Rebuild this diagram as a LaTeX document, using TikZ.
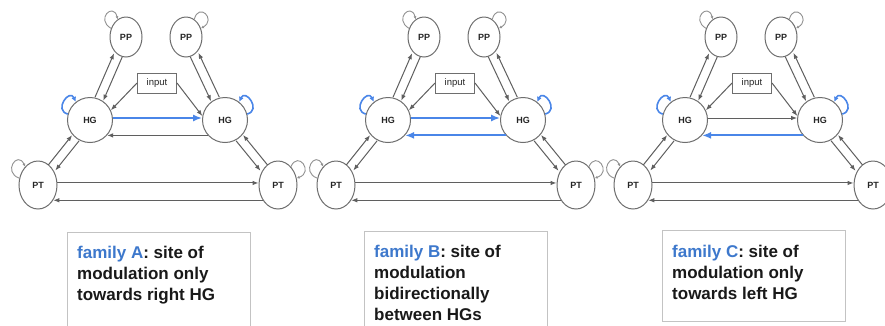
\documentclass[tikz,border=0pt]{standalone}
\usepackage{fontspec}
\setmainfont{Liberation Sans}
\setsansfont{Liberation Sans}
\usetikzlibrary{arrows.meta,shapes.geometric}

\definecolor{edgegray}{RGB}{95,95,95}
\definecolor{nodegray}{RGB}{110,110,110}
\definecolor{loopgray}{RGB}{145,145,145}
\definecolor{modblue}{RGB}{74,134,232}
\definecolor{capblue}{RGB}{61,120,204}
\definecolor{framegray}{RGB}{195,195,195}

\tikzset{
  region/.style={ellipse, draw=nodegray, line width=1pt, fill=white, inner sep=0pt,
    font=\fontsize{9}{10}\selectfont\bfseries, text=black!85},
  ppnode/.style={region, minimum width=32pt, minimum height=40pt},
  hgnode/.style={region, minimum width=45pt, minimum height=45pt},
  ptnode/.style={region, minimum width=38pt, minimum height=48pt},
  inputbox/.style={rectangle, draw=nodegray, line width=1pt, fill=white,
    minimum width=39pt, minimum height=20pt, inner sep=0pt,
    font=\fontsize{9.5}{10}\selectfont, text=black!85},
  link/.style={draw=edgegray, line width=1pt, -{Latex[length=6pt,width=4.5pt]}},
  modlink/.style={draw=modblue, line width=1.8pt, -{Latex[length=9pt,width=7pt]}},
  selfloop/.style={draw=loopgray, line width=0.9pt, -{Latex[length=3pt,width=3pt]}},
  modloop/.style={draw=modblue, line width=1.6pt, -{Latex[length=5pt,width=5pt]}},
  capframe/.style={rectangle, draw=framegray, line width=0.8pt, minimum width=183pt,
    anchor=north west},
  captext/.style={anchor=north west, inner sep=0pt, align=left,
    font=\fontsize{17}{21}\selectfont\bfseries, text=black!90},
}

% One network: #1 name prefix, #2 horizontal offset,
% #3 style of the rightward HG->HG link, #4 style of the leftward one
\newcommand\modpanel[4]{%
\begin{scope}[shift={(#2,0)}]
  \node[ppnode] (#1ppL) at (126,-37) {PP};
  \node[ppnode] (#1ppR) at (186,-37) {PP};
  \node[hgnode] (#1hgL) at (90,-120) {HG};
  \node[hgnode] (#1hgR) at (225,-120) {HG};
  \node[ptnode] (#1ptL) at (38,-185) {PT};
  \node[ptnode] (#1ptR) at (278,-185) {PT};
  \node[inputbox] (#1in) at (157,-83) {input};
  % PP <-> HG
  \draw[link, transform canvas={shift={(-4.1,1.8)}}] (#1hgL) -- (#1ppL);
  \draw[link, transform canvas={shift={(4.1,-1.8)}}] (#1ppL) -- (#1hgL);
  \draw[link, transform canvas={shift={(4.1,2.0)}}] (#1hgR) -- (#1ppR);
  \draw[link, transform canvas={shift={(-4.1,-2.0)}}] (#1ppR) -- (#1hgR);
  % PT <-> HG
  \draw[link, transform canvas={shift={(-3.5,2.8)}}] (#1ptL) -- (#1hgL);
  \draw[link, transform canvas={shift={(3.5,-2.8)}}] (#1hgL) -- (#1ptL);
  \draw[link, transform canvas={shift={(3.5,2.9)}}] (#1ptR) -- (#1hgR);
  \draw[link, transform canvas={shift={(-3.5,-2.9)}}] (#1hgR) -- (#1ptR);
  % input drives both HGs
  \draw[link] (#1in.west) -- (#1hgL.25);
  \draw[link] (#1in.east) -- (#1hgR.170);
  % HG <-> HG
  \draw[#3] (#1hgL.5) -- (#1hgR.175);
  \draw[#4] (#1hgR.222) -- (#1hgL.-42);
  % PT <-> PT
  \draw[link] (#1ptL.6) -- (#1ptR.174);
  \draw[link] (#1ptR.-135) -- (#1ptL.-45);
  % self connections
  \draw[selfloop] (#1ppL.150) .. controls +(150:18) and +(105:18) .. (#1ppL.115);
  \draw[selfloop] (#1ppR.65) .. controls +(75:18) and +(30:18) .. (#1ppR.30);
  \draw[selfloop] (#1ptL.160) .. controls +(160:18) and +(115:18) .. (#1ptL.125);
  \draw[selfloop] (#1ptR.55) .. controls +(65:18) and +(20:18) .. (#1ptR.20);
  \draw[modloop] (#1hgL.165) .. controls +(165:15) and +(115:15) .. (#1hgL.128);
  \draw[modloop] (#1hgR.15) .. controls +(15:15) and +(65:15) .. (#1hgR.52);
\end{scope}}

\begin{document}
\begin{tikzpicture}[x=1pt,y=1pt]
  \useasboundingbox (0,0) rectangle (885,-325);
  \fill[white] (0,0) rectangle (885,-325);

  \modpanel{a}{0}{modlink}{link}
  \modpanel{b}{298}{modlink}{modlink}
  \modpanel{c}{595}{link}{modlink}

  % captions
  \node[capframe, minimum height=110pt] (capA) at (67,-232) {};
  \node[captext] (capAtext) at ([shift={(10,-14)}]capA.north west)
    {{\color{capblue}family A}: site of\\modulation only\\towards right HG};
  \node[capframe, minimum height=110pt] (capB) at (364,-231) {};
  \node[captext] (capBtext) at ([shift={(10,-14)}]capB.north west)
    {{\color{capblue}family B}: site of\\modulation\\bidirectionally\\between HGs};
  \node[capframe, minimum height=91pt] (capC) at (662,-230) {};
  \node[captext] (capCtext) at ([shift={(10,-15)}]capC.north west)
    {{\color{capblue}family C}: site of\\modulation only\\towards left HG};
\end{tikzpicture}
\end{document}
